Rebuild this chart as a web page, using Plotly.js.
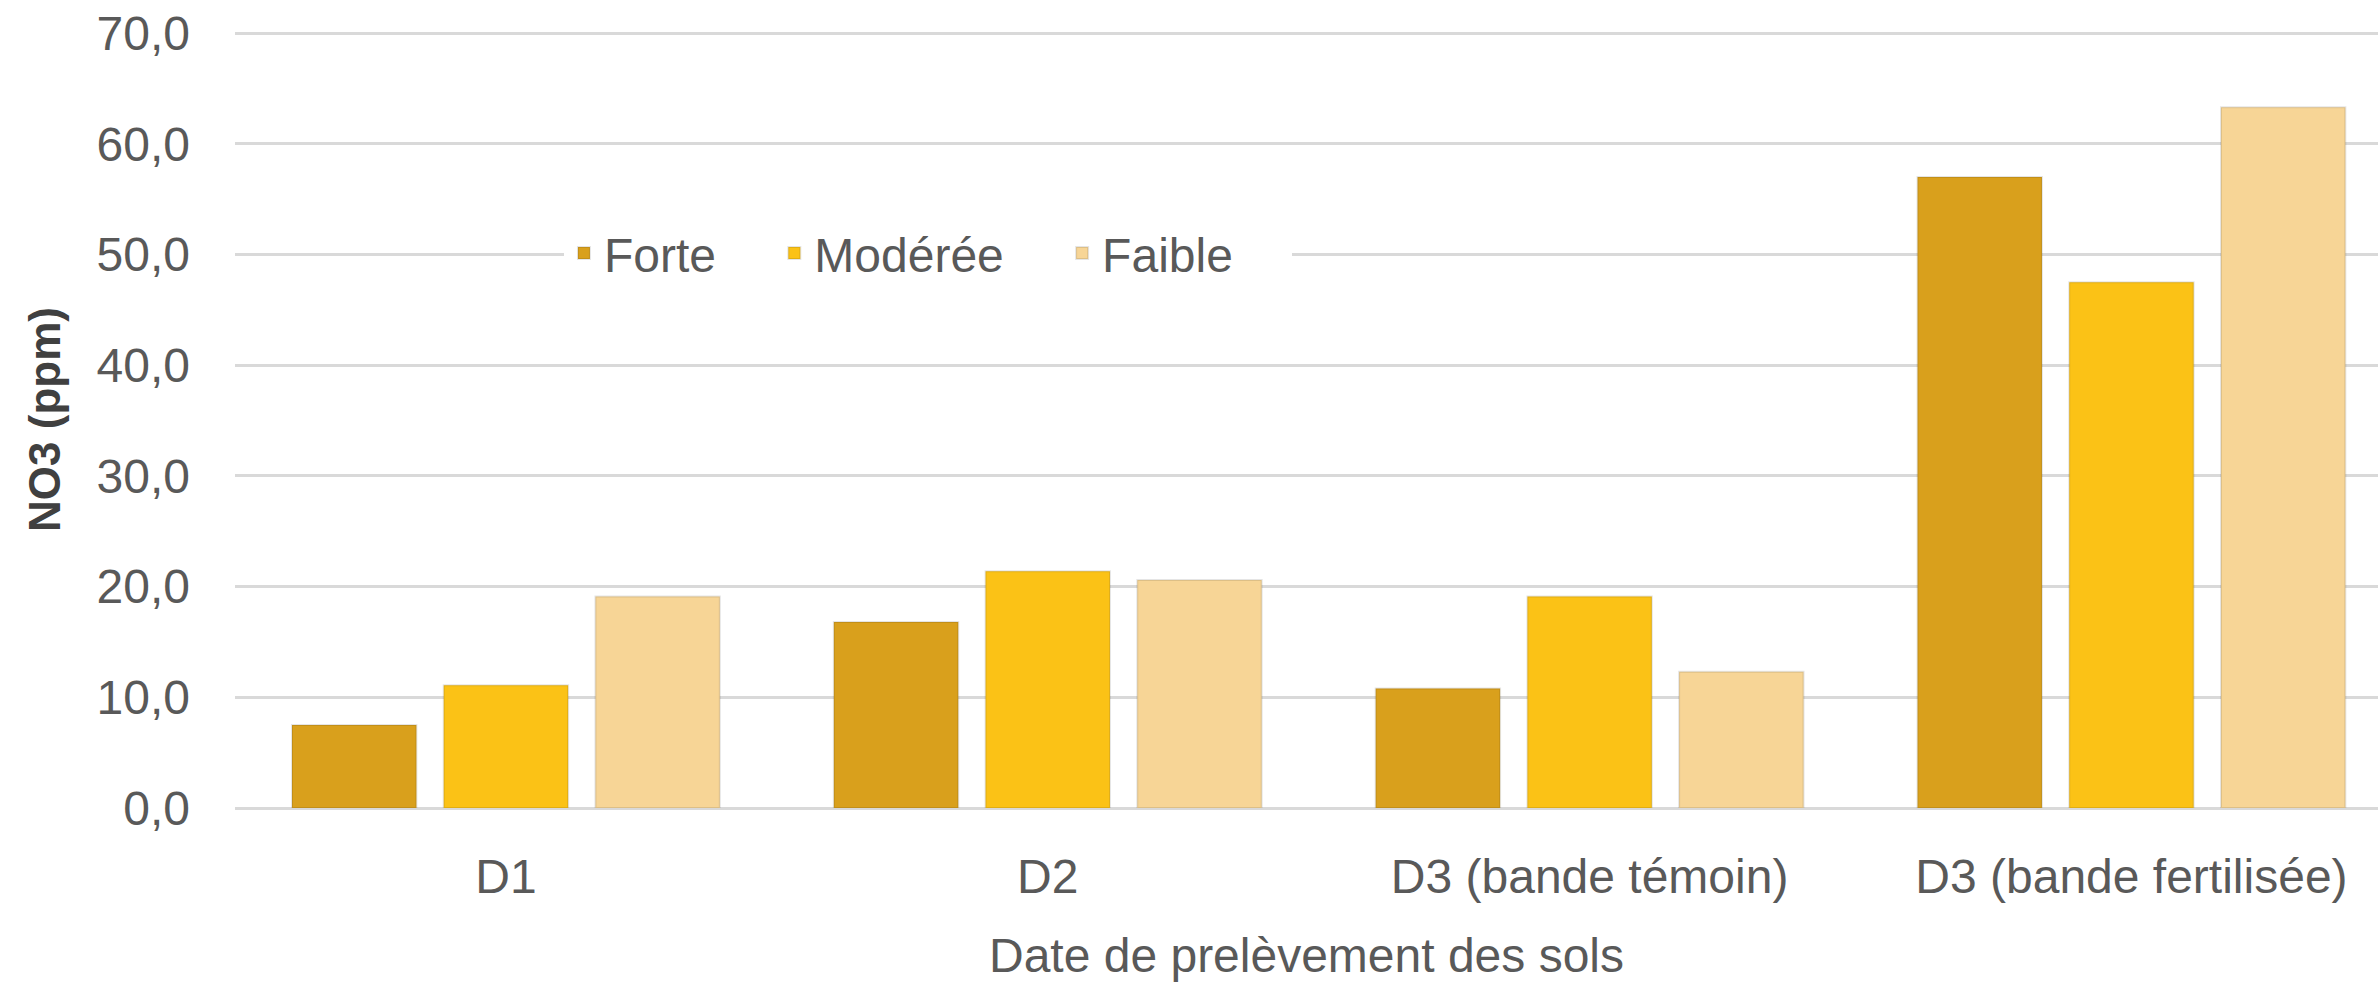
<!DOCTYPE html>
<html>
<head>
<meta charset="utf-8">
<script src="https://cdn.plot.ly/plotly-3.0.1.min.js"></script>
<style>html,body{margin:0;padding:0;background:#fff;}#chart{width:2378px;height:982px;}</style>
</head>
<body>
<div id="chart"></div>
<script>
const categories = ["D1", "D2", "D3 (bande témoin)", "D3 (bande fertilisée)"];
const seriesNames = ["Forte", "Modérée", "Faible"];
const forte = [7.5, 16.8, 10.8, 57.0];
const moderee = [11.1, 21.4, 19.1, 47.5];
const faible = [19.1, 20.6, 12.3, 63.3];
const yTickVals = [0, 10, 20, 30, 40, 50, 60, 70];
const yTickText = ["0,0", "10,0", "20,0", "30,0", "40,0", "50,0", "60,0", "70,0"];
const colors = ["#D9A01C", "#FBC216", "#F7D596"];
const pad = "\u00A0\u00A0\u00A0\u00A0";

const values = [forte, moderee, faible];
const traces = values.map((v, i) => ({
  type: "bar",
  name: seriesNames[i] + pad,
  x: categories,
  y: v,
  marker: { color: colors[i], line: { color: "rgba(0,0,0,0.10)", width: 2 } },
  hoverinfo: "x+y+name"
}));

const font = "Liberation Sans, Arial, sans-serif";
const layout = {
  width: 2378,
  height: 982,
  margin: { l: 235, r: 0, t: 31, b: 174 },
  paper_bgcolor: "#ffffff",
  plot_bgcolor: "#ffffff",
  barmode: "group",
  bargap: 0.16,
  bargroupgap: 0.18,
  font: { family: font, size: 48, color: "#595959" },
  showlegend: true,
  legend: {
    orientation: "h",
    x: 0.1535, xanchor: "left",
    y: 0.714, yanchor: "middle",
    bgcolor: "#ffffff",
    font: { family: font, size: 48, color: "#595959" },
    traceorder: "normal"
  },
  xaxis: {
    type: "category",
    range: [-0.5, 3.455],
    showgrid: false,
    zeroline: false,
    showline: false,
    ticks: "",
    ticklabelstandoff: 36,
    tickfont: { family: font, size: 48, color: "#595959" },
    title: { text: "Date de prelèvement des sols", font: { family: font, size: 48, color: "#595959" }, standoff: 38 },
    automargin: false
  },
  yaxis: {
    range: [0, 70.2],
    tickvals: yTickVals,
    ticktext: yTickText,
    showgrid: true,
    gridcolor: "#d9d9d9",
    gridwidth: 3,
    zeroline: true,
    zerolinecolor: "#d9d9d9",
    zerolinewidth: 3,
    showline: false,
    ticks: "",
    ticklabelstandoff: 44,
    tickfont: { family: font, size: 48, color: "#595959" },
    title: { text: "<b>NO3 (ppm)</b>", font: { family: font, size: 44, color: "#404040" }, standoff: 22 },
    automargin: false
  }
};

Plotly.newPlot("chart", traces, layout, { displayModeBar: false, staticPlot: true });
</script>
</body>
</html>
